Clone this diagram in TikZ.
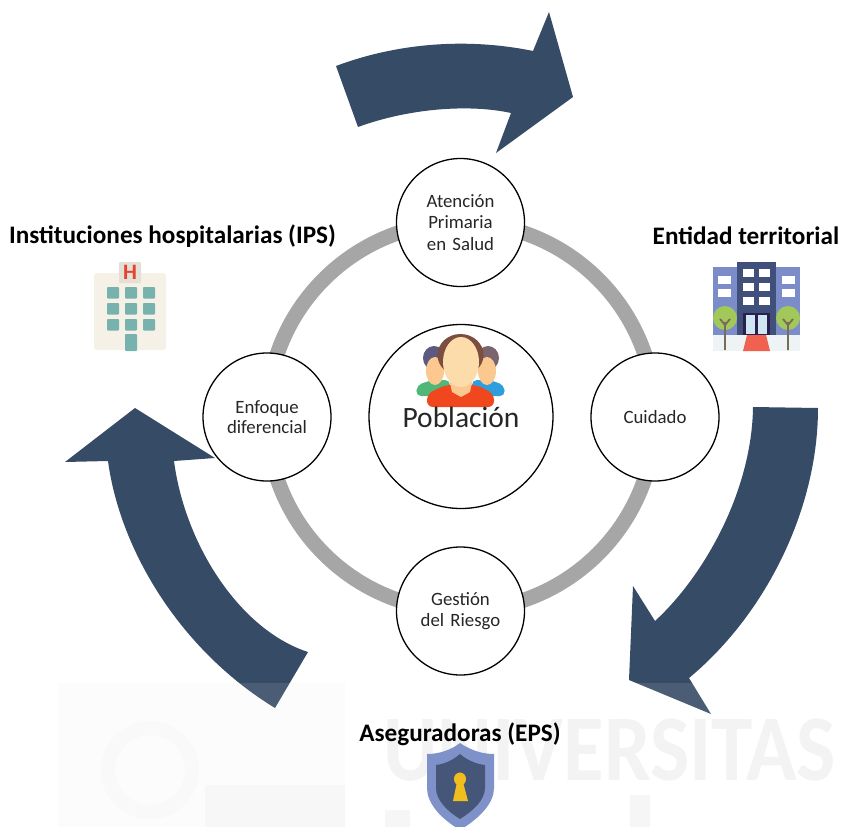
\documentclass[tikz,border=0pt]{standalone}
\usepackage{fontspec}
\setmainfont{Carlito}
\newcommand{\fsz}[1]{\fontsize{#1}{#1}\selectfont}
\definecolor{navyarrow}{HTML}{364B66}
\definecolor{txt}{HTML}{262626}
\definecolor{ringg}{HTML}{A6A6A6}
\definecolor{cream}{HTML}{F6F1E6}
\definecolor{signc}{HTML}{E5E0D5}
\definecolor{teal}{HTML}{78B2AE}
\definecolor{hred}{HTML}{E8402F}
\definecolor{wing}{HTML}{7C8CC8}
\definecolor{tower}{HTML}{414F7B}
\definecolor{ground}{HTML}{EEF3F5}
\definecolor{doorc}{HTML}{2A1F4D}
\definecolor{glass}{HTML}{CFE7F3}
\definecolor{carpet}{HTML}{F0624F}
\definecolor{leaf}{HTML}{A2C85A}
\definecolor{trunk}{HTML}{7A6A58}
\definecolor{shieldo}{HTML}{7F91C9}
\definecolor{shieldi}{HTML}{465679}
\definecolor{keyc}{HTML}{F0BF1E}
\definecolor{hairm}{HTML}{7B4E40}
\definecolor{facem}{HTML}{FDDCAB}
\definecolor{facen}{HTML}{FBC88F}
\definecolor{bodym}{HTML}{F0471F}
\definecolor{hairl}{HTML}{5C5A80}
\definecolor{hairr}{HTML}{7A6470}
\definecolor{bodyl}{HTML}{4FB878}
\definecolor{bodyr}{HTML}{2E9FDC}
\tikzset{
  big/.style={fill=navyarrow,draw=none},
  stage/.style={circle,draw=black,line width=1.3pt,fill=white,minimum size=128pt,inner sep=0pt,align=center,font=\fsz{18.8}\color{txt},text width=110pt},
  actor/.style={inner sep=0pt,font=\bfseries\fsz{25.2},text=black},
  gl/.style={fill=#1,draw=none}
}
\begin{document}
\begin{tikzpicture}[x=1pt,y=-1pt]
\useasboundingbox (0,0) rectangle (841,827);
\fill[white] (0,0) rectangle (841,827);
% watermark
\fill[gl={black!1.2}] (58,683) rectangle (345,827);
\draw[black!2.5,line width=14pt] (150,770) circle [radius=42];
\fill[gl={black!3}] (205,785) rectangle (345,827);
\fill[gl={black!4}] (630,795) rectangle (650,827);
\fill[gl={black!4}] (385,810) rectangle (410,827);
\node[inner sep=0pt,anchor=base west,text=black!5,font=\bfseries\fsz{94},xscale=.885] (wm) at (383,780) {UNIVERSITAS};
% ring
\coordinate (mid) at (461,416.5);
\draw[ringg,line width=15pt] (mid) circle [radius=194];
% arrows
\fill[big] (336,66) .. controls (400,42) and (470,38) .. (533,51)
  -- (549,12) -- (573,97) -- (496,153) -- (511,113)
  .. controls (470,104) and (410,108) .. (358,127) -- cycle;
\fill[big] (753,407) -- (818,408)
  .. controls (818,510) and (765,615) .. (689,678)
  -- (711,714) -- (629,680) -- (633,586) -- (655,621)
  .. controls (705,575) and (752,490) .. (753,407) -- cycle;
\fill[big] (135,408) -- (65,462) -- (108,461)
  .. controls (120,550) and (180,650) .. (275,708)
  -- (308,652)
  .. controls (240,630) and (185,545) .. (174,461)
  -- (215,458) -- cycle;
\fill[white,opacity=.1] (58,683) rectangle (841,827);
% circles
\node[stage] (aps) at (460.5,222.5) {Atención\\[2.5pt]Primaria\\[2.5pt]en Salud};
\node[stage] (cui) at (655,417) {Cuidado};
\node[stage] (ges) at (460.5,611) {Gestión\\[1.5pt]del Riesgo};
\node[stage] (enf) at (267,417) {Enfoque\\[1.5pt]diferencial};
\node[circle,draw=black,line width=1.3pt,fill=white,minimum size=184pt,inner sep=0pt] (pob) at (mid) {};
% people: side figures
\fill[gl=bodyl,rounded corners=5pt] (416,396) -- (417,385) -- (432,380) -- (450,380) -- (450,396) -- cycle;
\fill[gl=bodyr,rounded corners=5pt] (505,396) -- (504,385) -- (490,380) -- (472,380) -- (472,396) -- cycle;
\fill[gl=hairl] (434,358) ellipse [x radius=11,y radius=12];
\fill[gl=hairr] (488,358) ellipse [x radius=11,y radius=12];
\fill[gl=facen] (435,371) ellipse [x radius=9,y radius=14];
\fill[gl=facen] (487,371) ellipse [x radius=9,y radius=14];
% people: middle figure
\fill[gl=bodym,rounded corners=6pt] (427,407) -- (427,394) -- (445,385) -- (477,385) -- (494,394) -- (494,407) -- cycle;
\fill[gl=facen] (449,378) -- (473,378) -- (470,392) -- (461,397) -- (452,392) -- cycle;
\fill[gl=hairm] (460.5,355) ellipse [x radius=23,y radius=21];
\fill[gl=facem] (461,362) ellipse [x radius=18,y radius=25];
\node[inner sep=0pt,font=\fsz{29.5},text=txt] (pobl) at (461,417) {Población};
% actor labels
\node[actor] (ips) at (172.5,236) {Instituciones hospitalarias (IPS)};
\node[actor] (ent) at (746,236) {Entidad territorial};
\node[actor] (eps) at (460,734) {Aseguradoras (EPS)};
% hospital icon
\fill[gl=cream,rounded corners=3pt] (94,273) rectangle (166,350);
\fill[gl=signc,rounded corners=1pt] (119,262) rectangle (141,283);
\node[inner sep=0pt,font=\bfseries\fsz{22},text=hred] (hsign) at (130,272.5) {H};
\foreach \cx in {107,125,143} \foreach \cy in {287,303,319}
  \fill[gl=teal,rounded corners=.8pt] (\cx,\cy) rectangle ++(12,11.5);
\fill[gl=teal,rounded corners=.8pt] (125,334) rectangle (137,351);
% city building icon
\fill[gl=ground] (713,335) rectangle (800,351);
\fill[gl=wing] (713,267) rectangle (800,335);
\fill[gl=tower] (737,262) rectangle (776,335);
\foreach \cx in {743,759} \foreach \cy in {269,283,297}
  \fill[gl=white] (\cx,\cy) rectangle ++(10.5,8);
\foreach \cx in {718,782} \foreach \cy in {276,289}
  \fill[gl=white] (\cx,\cy) rectangle ++(12.5,7.5);
\fill[gl=doorc] (743,313) rectangle (770,335);
\fill[gl=glass] (746,315) rectangle (755,334);
\fill[gl=glass] (758,315) rectangle (767,334);
\fill[gl=carpet] (747,335) -- (766,335) -- (770,351) -- (743,351) -- cycle;
\foreach \tx in {725,788} {
  \fill[gl=leaf] (\tx,318) circle [radius=12];
  \draw[trunk,line width=1.8pt] (\tx,350) -- (\tx,322) (\tx,325) -- (\tx-5,319) (\tx,325) -- (\tx+5,319);
}
% shield icon
\fill[gl=shieldo] (460,743) .. controls (470,750) and (482,754) .. (494,754)
  -- (494,788) .. controls (494,803) and (480,818) .. (460,830)
  .. controls (440,818) and (427,803) .. (427,788) -- (427,754)
  .. controls (439,754) and (451,750) .. (460,743) -- cycle;
\fill[gl=shieldi] (460,754) .. controls (467,760) and (476,764) .. (485,765)
  -- (485,788) .. controls (485,800) and (473,811) .. (460,819)
  .. controls (447,811) and (436,800) .. (436,788) -- (436,765)
  .. controls (445,764) and (453,760) .. (460,754) -- cycle;
\fill[gl=keyc] (460,779) ellipse [x radius=6,y radius=6.5];
\fill[gl=keyc] (457,782) -- (463,782) -- (468,801) -- (453,801) -- cycle;
\end{tikzpicture}
\end{document}
